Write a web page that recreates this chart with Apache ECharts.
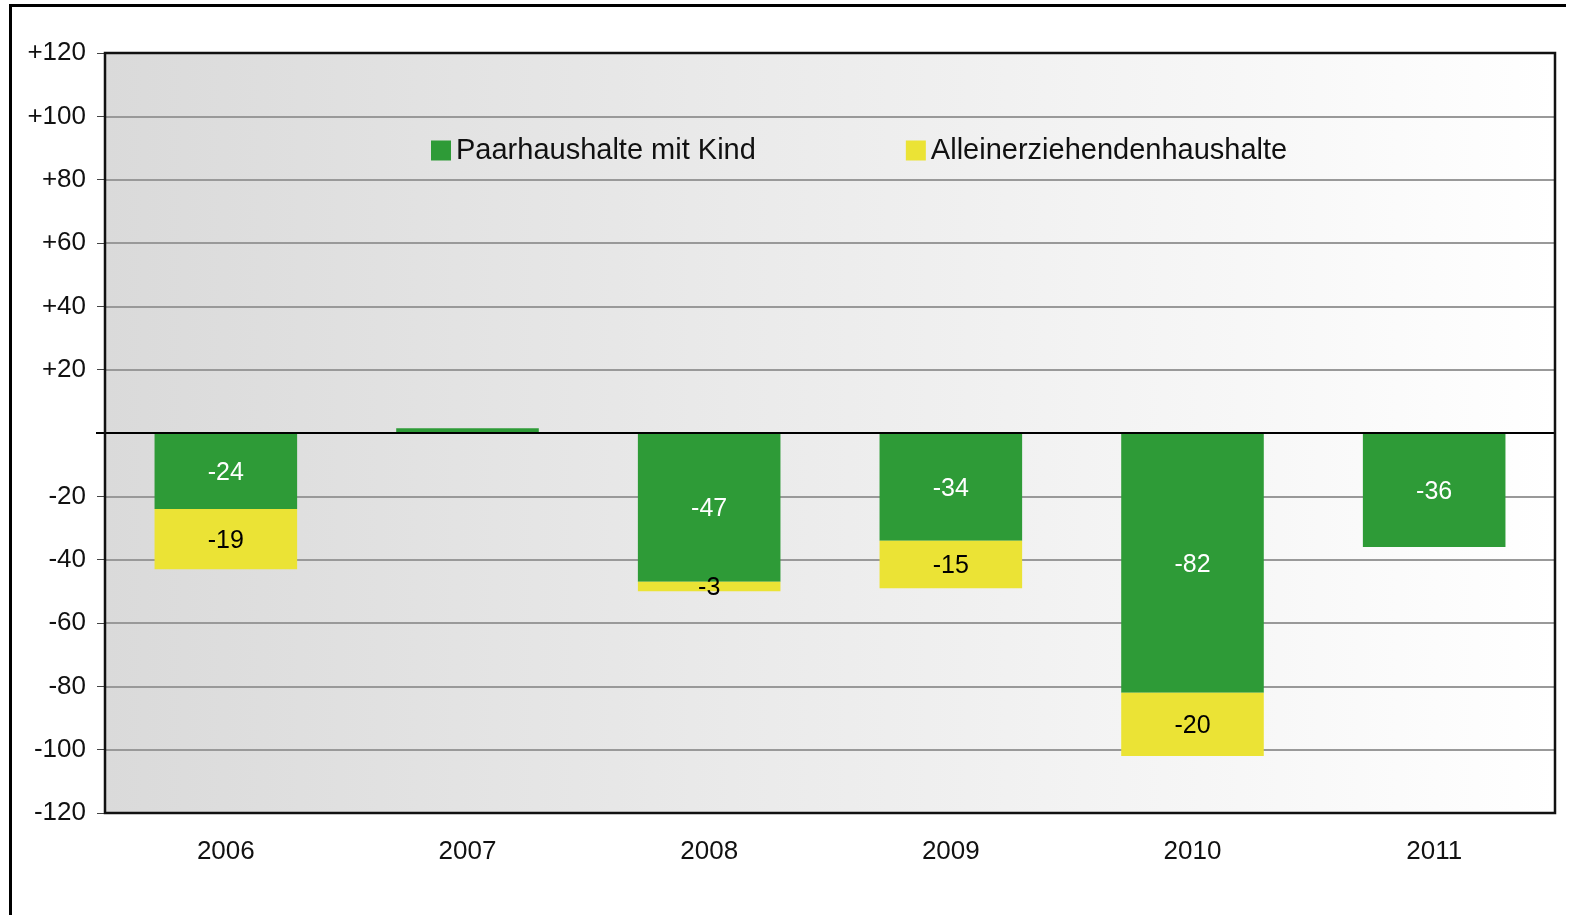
<!DOCTYPE html>
<html>
<head>
<meta charset="UTF-8">
<title>Haushalte</title>
<style>
    html, body { margin: 0; padding: 0; background: #fff; }
    #box { width: 1576px; height: 915px; }
</style>
<script src="https://cdn.jsdelivr.net/npm/echarts@6/dist/echarts.min.js"></script>
</head>
<body>
<div id="box"></div>
<script>
var years = ['2006', '2007', '2008', '2009', '2010', '2011'];
var paar = [-24, 1.5, -47, -34, -82, -36];        // Paarhaushalte mit Kind
var allein = [-19, null, -3, -15, -20, null];     // Alleinerziehendenhaushalte
var yTicks = [-120, -100, -80, -60, -40, -20, 0, 20, 40, 60, 80, 100, 120];

var FONT = 'Liberation Sans, Arial, sans-serif';

var myChart = echarts.init(document.getElementById('box'));
var option = {
    backgroundColor: '#fff',
    animation: false,
    legend: {
        top: 131,
        left: 426,
        itemWidth: 20,
        itemHeight: 20,
        itemGap: 150,
        icon: 'rect',
        textStyle: { fontFamily: FONT, fontSize: 29, color: '#111' },
        data: ['Paarhaushalte mit Kind', 'Alleinerziehendenhaushalte']
    },
    grid: {
        left: 105, right: 21, top: 53, bottom: 102,
        show: true,
        borderWidth: 0,
        backgroundColor: new echarts.graphic.LinearGradient(0, 0, 1, 0, [
            { offset: 0, color: '#dadada' },
            { offset: 1, color: '#ffffff' }
        ])
    },
    xAxis: {
        type: 'category',
        data: years,
        axisLine: { show: false },
        axisTick: { show: false },
        axisLabel: { fontFamily: FONT, fontSize: 26, color: '#111', margin: 26 }
    },
    yAxis: {
        type: 'value',
        min: -120, max: 120, interval: 20,
        axisLine: { show: false },
        axisTick: { show: true, length: 8, lineStyle: { color: '#444', width: 1 } },
        splitLine: { lineStyle: { color: '#999', width: 2 } },
        axisLabel: {
            fontFamily: FONT, fontSize: 26, color: '#111', margin: 19,
            formatter: function (v) {
                if (yTicks.indexOf(v) < 0 || v === 0) return '';
                return v > 0 ? '+' + v : String(v);
            }
        }
    },
    graphic: [
        // outer frame (top and left)
        { type: 'rect', shape: { x: 10, y: 4, width: 1556, height: 3 }, style: { fill: '#000' } },
        { type: 'rect', shape: { x: 9, y: 4, width: 3, height: 915 }, style: { fill: '#000' } },
        // zero line
        { type: 'rect', z: 100, shape: { x: 96, y: 432, width: 1459, height: 2 }, style: { fill: '#000' } },
        // plot frame
        { type: 'rect', z: 100, shape: { x: 105, y: 53, width: 1450, height: 760 },
          style: { fill: null, stroke: '#111', lineWidth: 2.5 } }
    ],
    series: [
        {
            name: 'Paarhaushalte mit Kind',
            type: 'bar',
            stack: 'a',
            barWidth: '59%',
            itemStyle: { color: '#2e9b37' },
            label: {
                show: true,
                position: 'inside',
                offset: [0, 2],
                fontFamily: FONT, fontSize: 25, color: '#fff',
                formatter: function (p) { return p.value < 0 ? String(p.value) : ''; }
            },
            data: paar
        },
        {
            name: 'Alleinerziehendenhaushalte',
            type: 'bar',
            stack: 'a',
            barWidth: '59%',
            itemStyle: { color: '#ebe335' },
            label: {
                show: true,
                position: 'inside',
                offset: [0, 2],
                fontFamily: FONT, fontSize: 25, color: '#000',
                formatter: function (p) { return p.value == null ? '' : String(p.value); }
            },
            data: allein
        }
    ]
};
myChart.setOption(option);
</script>
</body>
</html>
